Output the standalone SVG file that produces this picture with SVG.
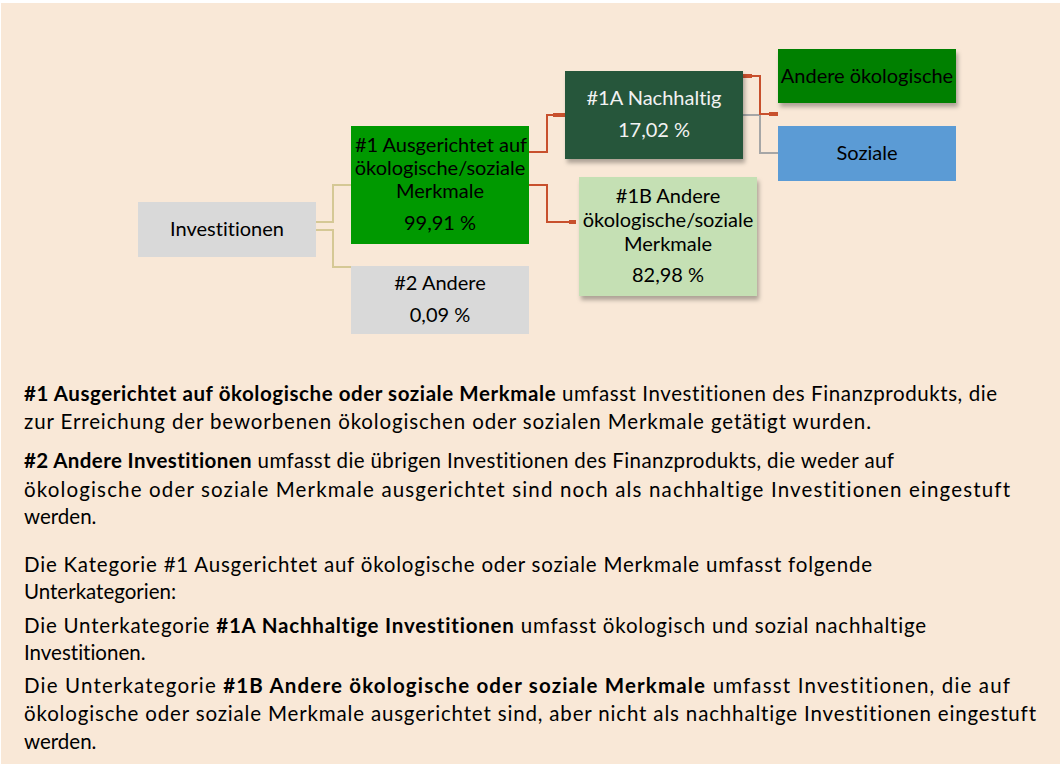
<svg xmlns="http://www.w3.org/2000/svg" width="1061" height="764" viewBox="0 0 1061 764">
<defs>
<filter id="sh" x="-10%" y="-10%" width="130%" height="140%">
<feDropShadow dx="2" dy="4" stdDeviation="2" flood-color="#000" flood-opacity="0.3"/>
</filter>
<style>
text{font-variant-ligatures:none;font-feature-settings:"liga" 0,"clig" 0}
.t{font-family:Lato,"Liberation Sans",sans-serif;font-size:20px;text-anchor:middle;fill:#000}
.w{fill:#F2F2F2}
.b{font-family:Lato,"Liberation Sans",sans-serif;font-size:20.5px;fill:#000}
.bb{font-weight:bold}
.tan{fill:none;stroke:#D5C895;stroke-width:2}
.red{fill:none;stroke:#C8502D;stroke-width:2}
.redk{fill:none;stroke:#C8502D;stroke-width:4}
.gry{fill:none;stroke:#A6A6A6;stroke-width:2}
</style>
</defs>
<rect x="0" y="0" width="1061" height="764" fill="#fff"/>
<rect x="1" y="3" width="1059" height="761" fill="#F9E8D7"/>
<g id="connectors">
<polyline class="tan" points="316,222 333,222 333,185 351,185"/>
<polyline class="tan" points="316,230 333,230 333,267 351,267"/>
<polyline class="red" points="529,152 547,152 547,115 565,115"/>
<line class="redk" x1="553" y1="115" x2="565" y2="115"/>
<polyline class="red" points="529,185 547,185 547,222 576,222"/>
<line class="redk" x1="569" y1="222" x2="576" y2="222"/>
<polyline class="gry" points="743,115 760,115 760,153 778,153"/>
<polyline class="red" points="743,76 760,76 760,114 778,114"/>
<line class="redk" x1="743" y1="76" x2="752" y2="76"/>
<line class="redk" x1="769" y1="114" x2="778" y2="114"/>
</g>
<g id="investitionen">
<rect x="138" y="202" width="178" height="55" fill="#D9D9D9"/>
<text class="t" x="227" y="236">Investitionen</text>
</g>
<g id="n1">
<rect x="351" y="126" width="178" height="118" fill="#009900"/>
<text class="t" x="441" y="152">#1 Ausgerichtet auf</text>
<text class="t" x="440" y="175">ökologische/soziale</text>
<text class="t" x="440" y="198">Merkmale</text>
<text class="t" x="440" y="230">99,91 %</text>
</g>
<g id="n2">
<rect x="351" y="266" width="178" height="68" fill="#D9D9D9"/>
<text class="t" x="440" y="290">#2 Andere</text>
<text class="t" x="440" y="322">0,09 %</text>
</g>
<g id="n1a">
<rect x="565" y="71" width="178" height="88" fill="#25573B" filter="url(#sh)"/>
<text class="t w" x="654" y="105">#1A Nachhaltig</text>
<text class="t w" x="654" y="137">17,02 %</text>
</g>
<g id="n1b">
<rect x="579" y="177" width="178" height="119" fill="#C5E0B4" filter="url(#sh)"/>
<text class="t" x="668" y="203">#1B Andere</text>
<text class="t" x="668" y="227">ökologische/soziale</text>
<text class="t" x="668" y="251">Merkmale</text>
<text class="t" x="668" y="282">82,98 %</text>
</g>
<g id="andere-oekologische">
<rect x="778" y="49" width="178" height="54" fill="#008000" filter="url(#sh)"/>
<text class="t" x="867" y="83">Andere ökologische</text>
</g>
<g id="soziale">
<rect x="778" y="126" width="178" height="55" fill="#5B9BD5"/>
<text class="t" x="867" y="160">Soziale</text>
</g>
<g id="legend">
<text class="b" x="24" y="401" textLength="973" lengthAdjust="spacing"><tspan class="bb">#1 Ausgerichtet auf ökologische oder soziale Merkmale</tspan> umfasst Investitionen des Finanzprodukts, die</text>
<text class="b" x="24" y="429" textLength="847" lengthAdjust="spacing">zur Erreichung der beworbenen ökologischen oder sozialen Merkmale getätigt wurden.</text>
<text class="b" x="24" y="468" textLength="870" lengthAdjust="spacing"><tspan class="bb">#2 Andere Investitionen</tspan> umfasst die übrigen Investitionen des Finanzprodukts, die weder auf</text>
<text class="b" x="24" y="497" textLength="986" lengthAdjust="spacing">ökologische oder soziale Merkmale ausgerichtet sind noch als nachhaltige Investitionen eingestuft</text>
<text class="b" x="24" y="524">werden.</text>
<text class="b" x="24" y="572" textLength="848" lengthAdjust="spacing">Die Kategorie #1 Ausgerichtet auf ökologische oder soziale Merkmale umfasst folgende</text>
<text class="b" x="24" y="599">Unterkategorien:</text>
<text class="b" x="24" y="633" textLength="902" lengthAdjust="spacing">Die Unterkategorie <tspan class="bb">#1A Nachhaltige Investitionen</tspan> umfasst ökologisch und sozial nachhaltige</text>
<text class="b" x="24" y="660">Investitionen.</text>
<text class="b" x="24" y="693" textLength="986" lengthAdjust="spacing">Die Unterkategorie <tspan class="bb">#1B Andere ökologische oder soziale Merkmale</tspan> umfasst Investitionen, die auf</text>
<text class="b" x="24" y="721" textLength="1012" lengthAdjust="spacing">ökologische oder soziale Merkmale ausgerichtet sind, aber nicht als nachhaltige Investitionen eingestuft</text>
<text class="b" x="24" y="749">werden.</text>
</g>
</svg>
